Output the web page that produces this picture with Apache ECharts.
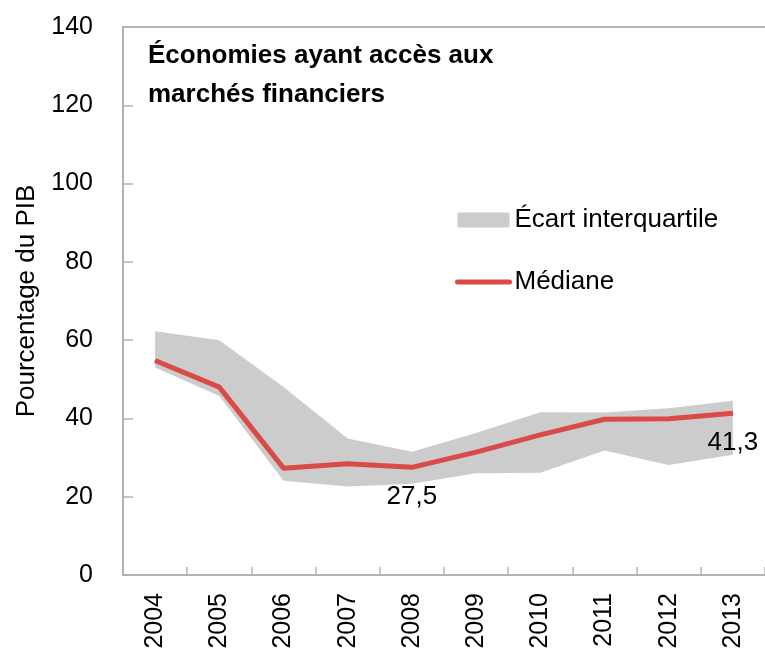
<!DOCTYPE html>
<html>
<head>
<meta charset="utf-8">
<script src="https://cdn.jsdelivr.net/npm/echarts@6/dist/echarts.min.js"></script>
<style>
  html, body { margin: 0; padding: 0; background: #fff; }
  #chart { width: 765px; height: 653px; }
</style>
</head>
<body>
<div id="chart"></div>
<script>
// chart data
var years = ['2004', '2005', '2006', '2007', '2008', '2009', '2010', '2011', '2012', '2013'];
var lowerQuartile = [53.0, 45.7, 24.1, 22.6, 23.3, 26.0, 26.1, 31.8, 28.1, 30.7];
var upperQuartile = [62.3, 60.0, 48.0, 34.9, 31.5, 36.3, 41.6, 41.5, 42.6, 44.5];
var median = [54.8, 48.0, 27.3, 28.4, 27.5, 31.4, 35.8, 39.8, 39.9, 41.3];
var labelledYears = ['2008', '2013'];

var font = 'Liberation Sans, Arial, sans-serif';
var axisColor = '#b3b3b3';
var red = '#d94a48';

var chart = echarts.init(document.getElementById('chart'));

// band = lower (invisible) + (upper - lower) stacked on top
var bandHeight = upperQuartile.map(function (v, i) {
  return +(v - lowerQuartile[i]).toFixed(2);
});

var medianData = median.map(function (v, i) {
  return {
    value: v,
    label: { show: labelledYears.indexOf(years[i]) >= 0 }
  };
});

chart.setOption({
  animation: false,
  textStyle: { fontFamily: font },
  title: {
    text: 'Économies ayant accès aux\nmarchés financiers',
    left: 143,
    top: 31,
    textStyle: {
      fontFamily: font,
      fontWeight: 'bold',
      fontSize: 26,
      lineHeight: 39,
      color: '#000'
    }
  },
  legend: {
    orient: 'vertical',
    left: 450,
    top: 202,
    itemWidth: 52,
    itemHeight: 15,
    itemGap: 36,
    textStyle: { fontFamily: font, fontSize: 26, color: '#000' },
    data: [
      { name: 'Écart interquartile', icon: 'rect' },
      {
        name: 'Médiane',
        itemStyle: { color: 'rgba(0,0,0,0)', borderWidth: 0 },
        lineStyle: { color: red, width: 5, cap: 'round' }
      }
    ]
  },
  grid: {
    left: 123,
    right: 0,
    top: 27,
    bottom: 78
  },
  xAxis: [{
    type: 'category',
    data: years,
    boundaryGap: true,
    axisLine: { lineStyle: { color: axisColor, width: 2 } },
    axisTick: { show: true, inside: true, length: 8, lineStyle: { color: axisColor, width: 1.5 } },
    axisLabel: {
      rotate: 90,
      margin: 18,
      interval: 0,
      fontSize: 25,
      color: '#000',
      fontFamily: font
    }
  }, {
    type: 'category',
    data: years,
    position: 'top',
    axisLine: { show: true, lineStyle: { color: axisColor, width: 2 } },
    axisTick: { show: false },
    axisLabel: { show: false }
  }],
  yAxis: {
    type: 'value',
    min: 0,
    max: 140,
    interval: 20,
    name: 'Pourcentage du PIB',
    nameLocation: 'middle',
    nameGap: 83,
    nameTextStyle: { fontSize: 26, color: '#000', fontFamily: font },
    axisLine: { show: true, lineStyle: { color: axisColor, width: 2 } },
    axisTick: { show: true, inside: true, length: 10, lineStyle: { color: axisColor, width: 1.5 } },
    axisLabel: { fontSize: 25, color: '#000', margin: 30, fontFamily: font },
    splitLine: { show: false }
  },
  series: [{
    name: 'lower',
    type: 'line',
    stack: 'band',
    data: lowerQuartile,
    symbol: 'none',
    lineStyle: { opacity: 0 },
    silent: true
  }, {
    name: 'Écart interquartile',
    type: 'line',
    stack: 'band',
    data: bandHeight,
    symbol: 'none',
    lineStyle: { opacity: 0 },
    itemStyle: { color: '#cccccc' },
    areaStyle: { color: '#cccccc', opacity: 1 }
  }, {
    name: 'Médiane',
    type: 'line',
    data: medianData,
    symbol: 'circle',
    symbolSize: 1,
    showSymbol: true,
    itemStyle: { color: red },
    lineStyle: { color: red, width: 5 },
    label: {
      position: 'bottom',
      distance: 16,
      fontSize: 26,
      color: '#000',
      fontFamily: font,
      formatter: function (p) { return String(p.value).replace('.', ','); }
    }
  }]
});
</script>
</body>
</html>
